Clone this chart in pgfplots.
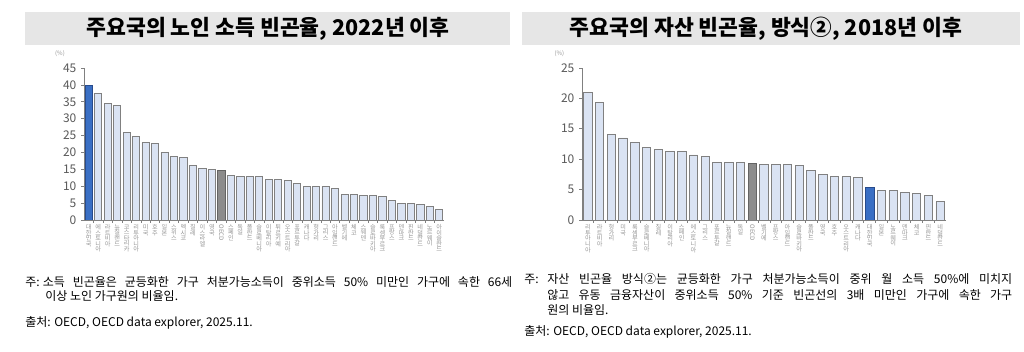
\documentclass[border=0pt]{standalone}
\usepackage{fontspec}
\usepackage{graphicx}
\usepackage{pgfplots}
\pgfplotsset{compat=1.18}
\setmainfont{Noto Sans CJK KR}
\definecolor{barfill}{RGB}{218,227,243}
\definecolor{barline}{RGB}{128,128,128}
\definecolor{korea}{RGB}{58,111,196}
\definecolor{korealine}{RGB}{40,75,140}
\definecolor{oecd}{RGB}{140,140,140}
\definecolor{oecdline}{RGB}{100,100,100}
\definecolor{axgray}{RGB}{128,128,128}
\definecolor{lblgray}{RGB}{89,89,89}
\definecolor{catgray}{RGB}{150,150,150}
\definecolor{band}{RGB}{230,230,230}
\pgfplotsset{
  mybars/.style={
    scale only axis, anchor=south west,
    xmin=-0.5, ymin=0, enlarge x limits=false, enlarge y limits=false,
    axis x line*=bottom, axis y line*=left,
    axis line style={draw=axgray, line width=0.6pt},
    tick align=outside, major tick length=2.2pt, minor tick length=2.2pt,
    major x tick style={draw=none},
    minor x tick num=1,
    minor x tick style={draw=axgray, line width=0.5pt},
    y tick style={draw=axgray, line width=0.5pt},
    /pgf/number format/assume math mode=true,
    yticklabel style={font=\fontsize{9}{9}\selectfont, text=lblgray},
    xticklabel style={font=\fontsize{4.6}{4.2}\selectfont, text=catgray, align=center, anchor=north, inner sep=1pt},
    every axis plot/.append style={ybar, bar shift=0pt, line width=0.6pt},
  }
}
\begin{document}
\begin{tikzpicture}
\path[use as bounding box] (0,0) rectangle (768pt,264pt);
% title bands
\fill[band] (18.75pt,230.25pt) rectangle (382.5pt,255pt);
\fill[band] (391.5pt,230.25pt) rectangle (765pt,255pt);
\node at (201pt,242.6pt) {\bfseries\fontsize{16.2}{16.2}\selectfont 주요국의 노인 소득 빈곤율, 2022년 이후};
\node at (574.5pt,242.6pt) {\bfseries\fontsize{16.2}{16.2}\selectfont 주요국의 자산 빈곤율, 방식②, 2018년 이후};
\node[text=catgray] at (45pt,223.5pt) {\fontsize{4.5}{4.5}\selectfont (\%)};
\node[text=catgray] at (419.5pt,223.5pt) {\fontsize{4.5}{4.5}\selectfont (\%)};

% left axis
\begin{axis}[mybars, at={(63pt,99pt)}, width=270pt, height=114pt,
  xmax=37.5, ymax=45, ytick={0,5,...,45},
  xtick={0,...,37}, bar width=0.76,
  xticklabels={{대\\한\\민\\국},{에\\스\\토\\니\\아},{라\\트\\비\\아},{뉴\\질\\랜\\드},{코\\스\\타\\리\\카},{리\\투\\아\\니\\아},{미\\국},{호\\주},{일\\본},{스\\위\\스},{멕\\시\\코},{칠\\레},{이\\스\\라\\엘},{영\\국},{\rotatebox{-90}{OECD}},{스\\페\\인},{독\\일},{폴\\란\\드},{슬\\로\\베\\니\\아},{이\\탈\\리\\아},{튀\\르\\키\\예},{오\\스\\트\\리\\아},{포\\르\\투\\갈},{캐\\나\\다},{헝\\가\\리},{그\\리\\스},{아\\일\\랜\\드},{벨\\기\\에},{체\\코},{스\\웨\\덴},{슬\\로\\바\\키\\아},{룩\\셈\\부\\르\\크},{프\\랑\\스},{덴\\마\\크},{핀\\란\\드},{네\\덜\\란\\드},{노\\르\\웨\\이},{아\\이\\슬\\란\\드}},
]
\addplot[fill=barfill, draw=barline] coordinates {
(1,37.5) (2,34.4) (3,33.9) (4,25.8) (5,24.7) (6,22.9) (7,22.7) (8,20.1) (9,18.9)
(10,18.4) (11,16.1) (12,15.3) (13,15.0) (15,13.2) (16,13.0) (17,12.8) (18,12.8)
(19,12.0) (20,12.0) (21,11.6) (22,10.9) (23,10.0) (24,10.0) (25,10.0) (26,9.4)
(27,7.6) (28,7.6) (29,7.3) (30,7.3) (31,7.0) (32,5.9) (33,5.0) (34,4.9) (35,4.7)
(36,4.1) (37,3.1)};
\addplot[fill=korea, draw=korealine] coordinates {(0,39.8)};
\addplot[fill=oecd, draw=oecdline] coordinates {(14,14.8)};
\end{axis}

% right axis
\begin{axis}[mybars, at={(436.5pt,99pt)}, width=273pt, height=114pt,
  xmax=30.5, ymax=25, ytick={0,5,...,25},
  xtick={0,...,30}, bar width=0.72,
  xticklabels={{리\\투\\아\\니\\아},{라\\트\\비\\아},{헝\\가\\리},{미\\국},{룩\\셈\\부\\르\\크},{슬\\로\\베\\니\\아},{칠\\레},{이\\탈\\리\\아},{스\\페\\인},{에\\스\\토\\니\\아},{그\\리\\스},{포\\르\\투\\갈},{뉴\\질\\랜\\드},{독\\일},{\rotatebox{-90}{OECD}},{벨\\기\\에},{프\\랑\\스},{아\\일\\랜\\드},{슬\\로\\바\\키\\아},{폴\\란\\드},{영\\국},{호\\주},{오\\스\\트\\리\\아},{캐\\나\\다},{대\\한\\민\\국},{일\\본},{노\\르\\웨\\이},{덴\\마\\크},{체\\코},{핀\\란\\드},{네\\덜\\란\\드}},
]
\addplot[fill=barfill, draw=barline] coordinates {
(0,21.0) (1,19.3) (2,14.0) (3,13.5) (4,12.7) (5,12.0) (6,11.6) (7,11.3) (8,11.2)
(9,10.7) (10,10.5) (11,9.5) (12,9.5) (13,9.4) (15,9.2) (16,9.2) (17,9.1) (18,9.0)
(19,8.2) (20,7.5) (21,7.2) (22,7.1) (23,7.0) (25,4.8) (26,4.8) (27,4.5) (28,4.3)
(29,4.0) (30,3.0)};
\addplot[fill=korea, draw=korealine] coordinates {(24,5.4)};
\addplot[fill=oecd, draw=oecdline] coordinates {(14,9.3)};
\end{axis}

% notes left
\node[anchor=west, inner sep=0pt] at (18.75pt,52.5pt) {\fontsize{9}{9}\selectfont 주:};
\node[anchor=west, inner sep=0pt] at (32pt,52.5pt) {\fontsize{9}{9}\selectfont\makebox[352pt][s]{소득 빈곤율은 균등화한 가구 처분가능소득이 중위소득 50\% 미만인 가구에 속한 66세}};
\node[anchor=west, inner sep=0pt] at (33.75pt,42pt) {\fontsize{9}{9}\selectfont 이상 노인 가구원의 비율임.};
\node[anchor=west, inner sep=0pt] at (18.75pt,21.75pt) {\fontsize{9}{9}\selectfont 출처: OECD, OECD data explorer, 2025.11.};

% notes right
\node[anchor=west, inner sep=0pt] at (393pt,54.75pt) {\fontsize{9}{9}\selectfont 주:};
\node[anchor=west, inner sep=0pt] at (410.25pt,54.75pt) {\fontsize{9}{9}\selectfont\makebox[348.75pt][s]{자산 빈곤율 방식②는 균등화한 가구 처분가능소득이 중위 월 소득 50\%에 미치지}};
\node[anchor=west, inner sep=0pt] at (410.25pt,42.75pt) {\fontsize{9}{9}\selectfont\makebox[348.75pt][s]{않고 유동 금융자산이 중위소득 50\% 기준 빈곤선의 3배 미만인 가구에 속한 가구}};
\node[anchor=west, inner sep=0pt] at (410.25pt,31.5pt) {\fontsize{9}{9}\selectfont 원의 비율임.};
\node[anchor=west, inner sep=0pt] at (393pt,15pt) {\fontsize{9}{9}\selectfont 출처: OECD, OECD data explorer, 2025.11.};
\end{tikzpicture}
\end{document}
